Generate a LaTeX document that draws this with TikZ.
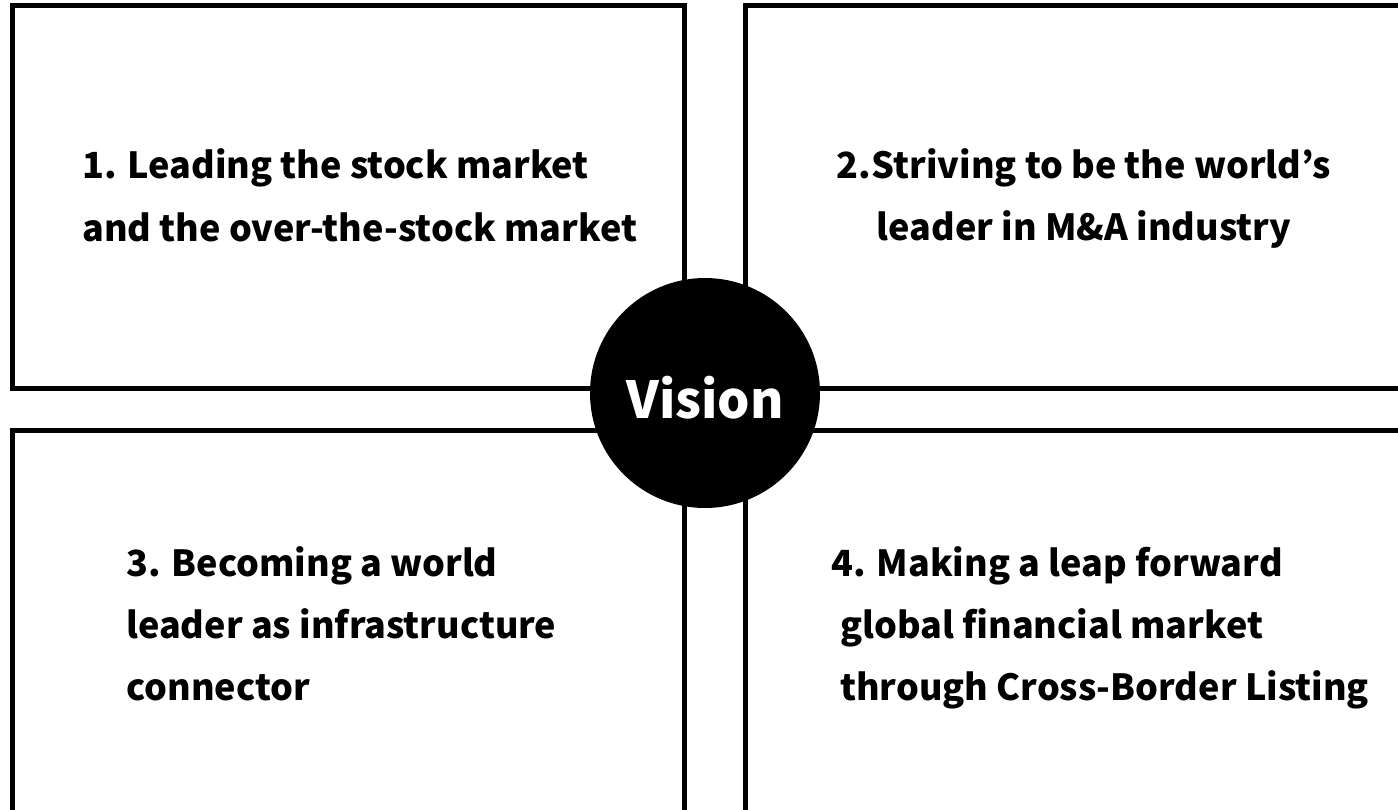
\documentclass[tikz,border=0pt]{standalone}
\usepackage{fontspec}
\setmainfont{Noto Sans CJK KR}
\begin{document}
\begin{tikzpicture}[x=1pt,y=-1pt,
  panel/.style={draw=black,line width=5pt},
  txt/.style={inner sep=0pt,font=\fontsize{36}{44}\selectfont\bfseries},
  txtl/.style={txt,anchor=base west},
  txtc/.style={txt,anchor=base}]
\clip (0,0) rectangle (1398,809);
\fill[white] (0,0) rectangle (1398,809);
% panels
\draw[panel] (12.5,5.5) rectangle (684,388);
\draw[panel] (745.5,5.5) rectangle (1420,388);
\draw[panel] (12.5,430) rectangle (684,830);
\draw[panel] (745.5,430) rectangle (1420,830);
% texts
\node[txtl] (t1a) at (82,178) {1. Leading the stock market};
\node[txtl] (t1b) at (82,241) {and the over-the-stock market};
\node[txtc] (t2a) at (1084,178) {2.Striving to be the world’s};
\node[txtc] (t2b) at (1084,240) {leader in M\&A industry};
\node[txtl] (t3a) at (126,576) {3. Becoming a world};
\node[txtl] (t3b) at (126,638) {leader as infrastructure};
\node[txtl] (t3c) at (126,700) {connector};
\node[txtl] (t4a) at (831,576) {4. Making a leap forward};
\node[txtl] (t4b) at (840,638) {global financial market};
\node[txtl] (t4c) at (840,700) {through Cross-Border Listing};
% centre
\node[circle,fill=black,minimum size=230pt,inner sep=0pt] (c) at (705,393) {};
\node[inner sep=0pt,anchor=base,text=white,font=\fontsize{51}{60}\selectfont\bfseries] (v) at (705,418) {Vision};
\end{tikzpicture}
\end{document}
